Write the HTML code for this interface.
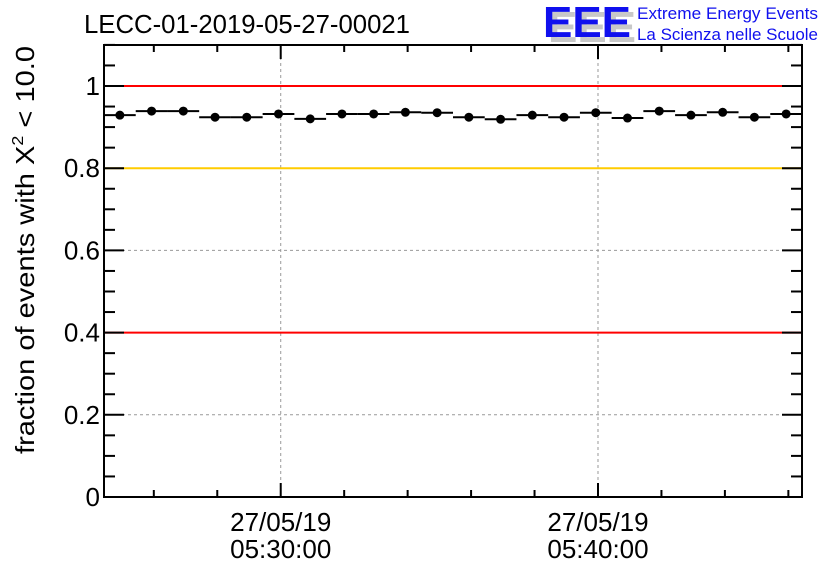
<!DOCTYPE html>
<html><head><meta charset="utf-8"><style>
body{margin:0;background:#fff;}
svg{display:block;font-family:"Liberation Sans",Arial,sans-serif;}
</style></head><body>
<svg id="chart" width="836" height="572" xmlns="http://www.w3.org/2000/svg">
<rect x="0" y="0" width="836" height="572" fill="#fff"/>
<text x="84" y="33" font-size="25.5" fill="#000" textLength="326" lengthAdjust="spacingAndGlyphs">LECC-01-2019-05-27-00021</text>
<g>
<text x="548" y="42" font-size="44" font-weight="bold" fill="#c8c8c8" textLength="88" lengthAdjust="spacingAndGlyphs">EEE</text>
<text x="543" y="37" font-size="44" font-weight="bold" fill="#1010ee" textLength="88" lengthAdjust="spacingAndGlyphs">EEE</text>
<text x="637" y="19" font-size="17" fill="#1010ee" textLength="181" lengthAdjust="spacingAndGlyphs">Extreme Energy Events</text>
<text x="637" y="40" font-size="17" fill="#1010ee" textLength="181" lengthAdjust="spacingAndGlyphs">La Scienza nelle Scuole</text>
</g>
<text transform="translate(34,250) rotate(-90)" text-anchor="middle" font-size="26" fill="#000" textLength="408" lengthAdjust="spacingAndGlyphs">fraction of events with X<tspan font-size="16" dy="-11">2</tspan><tspan dy="11"> &lt; 10.0</tspan></text>
<g id="grid"></g><g id="refs"></g><g id="axes"></g><g id="marks"></g>
</svg>
<script>
const values=[0.929,0.939,0.939,0.924,0.924,0.932,0.920,0.932,0.932,0.936,0.935,0.924,0.919,0.929,0.924,0.935,0.922,0.939,0.929,0.936,0.924,0.932];
const yTicks=[0,0.2,0.4,0.6,0.8,1];
const yLabels=["0","0.2","0.4","0.6","0.8","1"];
const xTickMinutes=[30,40];
const xTickDates=["27/05/19","27/05/19"];
const xTickTimes=["05:30:00","05:40:00"];
const refLines=[{v:1,c:"#ff0000"},{v:0.8,c:"#ffcc00"},{v:0.4,c:"#ff0000"}];
const startMin=24.43, endMin=46.43;
const L=104,R=802,T=45,B=497;
const ns="http://www.w3.org/2000/svg";
const X=m=>L+(m-startMin)/(endMin-startMin)*(R-L);
const Y=v=>B-v*411;
function mk(tag,attrs,parent){const e=document.createElementNS(ns,tag);for(const k in attrs)e.setAttribute(k,attrs[k]);document.getElementById(parent).appendChild(e);return e;}
yTicks.forEach(v=>{if(v>0&&v<1&&!refLines.some(r=>r.v===v)){const g=mk('line',{x1:L,x2:R,y1:Y(v),y2:Y(v),stroke:'#999','stroke-dasharray':'3,3','stroke-width':1},'grid');

}});
xTickMinutes.forEach(m=>{const g=mk('line',{x1:X(m),x2:X(m),y1:T,y2:B,stroke:'#999','stroke-dasharray':'3,3','stroke-width':1},'grid');

});
refLines.forEach(r=>{const l=mk('line',{x1:L,x2:R,y1:Y(r.v),y2:Y(r.v),stroke:r.c,'stroke-width':2},'refs');

});
const fr=mk('rect',{x:L,y:T,width:R-L,height:B-T,fill:'none',stroke:'#000','stroke-width':2},'axes');


for(let i=0;i<=22;i++){const v=i*0.05;const major=(i%4===0);const len=major?20:11;
mk('line',{x1:L,x2:L+len,y1:Y(v),y2:Y(v),stroke:'#000','stroke-width':2},'axes');
mk('line',{x1:R,x2:R-len,y1:Y(v),y2:Y(v),stroke:'#000','stroke-width':2},'axes');}
yTicks.forEach((v,i)=>{const t=mk('text',{x:L-4,y:Y(v)+9,'text-anchor':'end','font-size':26,fill:'#000'},'axes');t.textContent=yLabels[i];

});
for(let m=26;m<=46;m+=2){const major=(m%10===0);const len=major?14:7;
mk('line',{x1:X(m),x2:X(m),y1:B,y2:B-len,stroke:'#000','stroke-width':2},'axes');
mk('line',{x1:X(m),x2:X(m),y1:T,y2:T+len,stroke:'#000','stroke-width':2},'axes');}
xTickMinutes.forEach((m,i)=>{const t1=mk('text',{x:X(m),y:531,'text-anchor':'middle','font-size':26,fill:'#000'},'axes');t1.textContent=xTickDates[i];


const t2=mk('text',{x:X(m),y:558,'text-anchor':'middle','font-size':26,fill:'#000'},'axes');t2.textContent=xTickTimes[i];

});
values.forEach((v,i)=>{const x0=X(startMin+i),x1=X(startMin+i+1),cx=(x0+x1)/2;
const l=mk('line',{x1:x0,x2:x1,y1:Y(v),y2:Y(v),stroke:'#000','stroke-width':2},'marks');


const c=mk('circle',{cx:cx,cy:Y(v),r:4.5,fill:'#000'},'marks');

});
</script>
</body></html>
